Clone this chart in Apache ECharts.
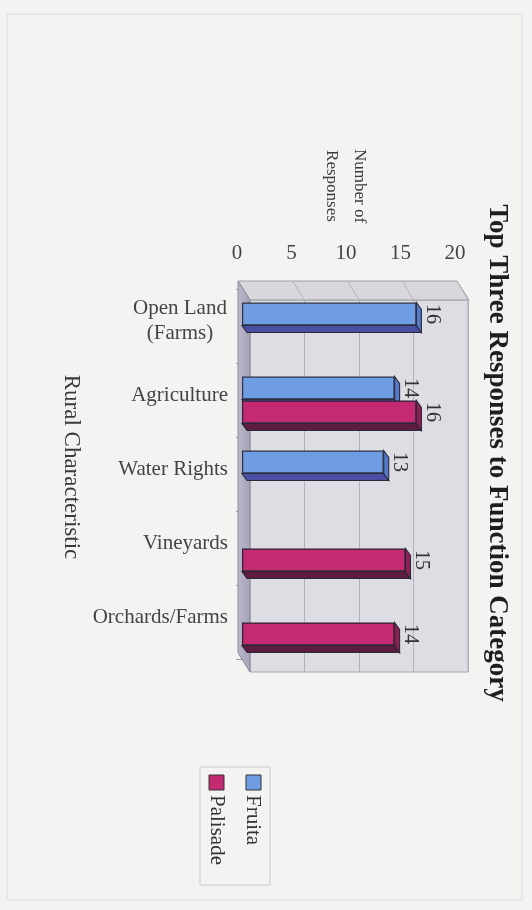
<!DOCTYPE html>
<html><head><meta charset="utf-8">
<script src="https://cdn.jsdelivr.net/npm/echarts@6/dist/echarts.min.js"></script>
<style>html,body{margin:0;padding:0;background:#f3f3f1;} #c{width:532px;height:910px;}</style>
</head><body><div id="c"></div>
<script>
// ---- data ----
const categories = ['Open Land\n(Farms)', 'Agriculture', 'Water Rights', 'Vineyards', 'Orchards/Farms'];
const fruita = [16, 14, 13, null, null];
const palisade = [null, 16, null, 15, 14];
const valueTicks = [0, 5, 10, 15, 20];
const seriesNames = ['Fruita', 'Palisade'];
const titleText = 'Top Three Responses to Function Category';
const valueAxisName = 'Number of\nResponses';
const categoryAxisName = 'Rural Characteristic';

// ---- layout / style ----
const FONT = '"Liberation Serif", "Times New Roman", serif';
const colors = {
  fruita: '#6e9de3', fruitaBottom: '#4a4fa2', fruitaEnd: '#5379c8',
  palisade: '#c42a72', palisadeBottom: '#5e1b40', palisadeEnd: '#8e1f55'
};
const front = { x0: 238, y0: 281, x1: 457 };
const depth = { dx: 12, dy: 19 };
const back = { left: 250, top: 300, width: 218, height: 372 };
const BAR_W = 23, BAR_GAP = 0.04, BAR_DX = 5, BAR_DY = 7;
const vMin = valueTicks[0], vMax = valueTicks[valueTicks.length - 1], vInt = valueTicks[1] - valueTicks[0];

const chart = echarts.init(document.getElementById('c'), null, { renderer: 'canvas' });

function rotText(x, y, text, font, extra) {
  return {
    type: 'text', x: x, y: y, rotation: -Math.PI / 2, z: 50,
    style: Object.assign({ text: text, font: font, fill: '#333', align: 'center', verticalAlign: 'middle', lineHeight: 29 }, extra || {})
  };
}

const graphics = [];
graphics.push({ type: 'rect', z: -5, shape: { x: 7, y: 14, width: 515, height: 886 }, style: { fill: 'none', stroke: '#d9dce6', lineWidth: 1 } });
graphics.push({ type: 'polygon', z: 1, shape: { points: [[front.x0, front.y0], [front.x1, front.y0], [front.x1 + depth.dx, front.y0 + depth.dy], [front.x0 + depth.dx, front.y0 + depth.dy]] }, style: { fill: '#d8d8dc', stroke: '#9c9ca6', lineWidth: 1 } });
valueTicks.forEach(function (v) {
  const fx = front.x0 + (front.x1 - front.x0) * (v - vMin) / (vMax - vMin);
  const bx = back.left + back.width * (v - vMin) / (vMax - vMin);
  graphics.push({ type: 'line', z: 1, shape: { x1: fx, y1: front.y0, x2: bx, y2: back.top }, style: { stroke: '#b4b4bc', lineWidth: 1 } });
});
graphics.push({ type: 'polygon', z: 1, shape: { points: [[front.x0, front.y0], [back.left, back.top], [back.left, back.top + back.height], [front.x0, back.top + back.height - depth.dy]] },
  style: { fill: new echarts.graphic.LinearGradient(0, 0, 1, 0, [{ offset: 0, color: '#bab8c9' }, { offset: 1, color: '#a4a2b5' }]), stroke: '#8e8c9c', lineWidth: 1 } });
graphics.push(rotText(497, 453, titleText, 'bold 27px ' + FONT, { fill: '#1e1e1e' }));
graphics.push(rotText(345, 186, valueAxisName, '17px ' + FONT, { fill: '#3a3a3a', lineHeight: 28 }));
graphics.push(rotText(71, 467, categoryAxisName, '23px ' + FONT, { fill: '#3a3a3a' }));
graphics.push({ type: 'rect', z: 40, shape: { x: 200, y: 767, width: 70, height: 118 }, style: { fill: 'none', stroke: '#c9c9cf', lineWidth: 1 } });
graphics.push({ type: 'rect', z: 41, shape: { x: 246, y: 775, width: 15, height: 15 }, style: { fill: colors.fruita, stroke: '#333', lineWidth: 1 } });
graphics.push({ type: 'rect', z: 41, shape: { x: 209, y: 775, width: 15, height: 15 }, style: { fill: colors.palisade, stroke: '#333', lineWidth: 1 } });
graphics.push(rotText(253, 795, seriesNames[0], '21px ' + FONT, { align: 'left', fill: '#333' }));
graphics.push(rotText(217, 795, seriesNames[1], '21px ' + FONT, { align: 'left', fill: '#333' }));

const barLabel = {
  show: true, position: 'right', distance: 6, rotate: -90, align: 'center', verticalAlign: 'bottom',
  fontFamily: FONT, fontSize: 20, color: '#333'
};

// depth faces (bottom + end) of the 3D bars, positioned from the axes
function depthSeries(values, sIdx, bottomColor, endColor) {
  const items = [];
  values.forEach(function (v, i) { if (v != null) items.push([i, v]); });
  const off = (sIdx === 0 ? -1 : 1) * (BAR_W * (1 + BAR_GAP)) / 2;
  return {
    type: 'custom', xAxisIndex: 0, yAxisIndex: 0, z: 3, silent: true,
    encode: { x: 1, y: 0 }, data: items,
    renderItem: function (params, api) {
      const p0 = api.coord([0, api.value(0)]);
      const p1 = api.coord([api.value(1), api.value(0)]);
      const yc = p0[1] + off, yt = yc - BAR_W / 2, yb = yc + BAR_W / 2;
      const x0 = p0[0], x1 = p1[0];
      return {
        type: 'group', children: [
          { type: 'polygon', shape: { points: [[x0, yb], [x1, yb], [x1 + BAR_DX, yb + BAR_DY], [x0 + BAR_DX, yb + BAR_DY]] },
            style: { fill: bottomColor, stroke: '#2a2a3a', lineWidth: 1.1 } },
          { type: 'polygon', shape: { points: [[x1, yt], [x1 + BAR_DX, yt + BAR_DY], [x1 + BAR_DX, yb + BAR_DY], [x1, yb]] },
            style: { fill: endColor, stroke: '#2a2a3a', lineWidth: 1.1 } }
        ]
      };
    }
  };
}

chart.setOption({
  backgroundColor: '#f3f3f1',
  animation: false,
  grid: [
    { left: 242, top: 289, width: 218, height: 370, containLabel: false },
    { left: back.left, top: back.top, width: back.width, height: back.height, show: true, backgroundColor: '#dedde3', borderColor: '#a6a6ae', borderWidth: 1, z: -1 }
  ],
  xAxis: [
    { type: 'value', gridIndex: 0, position: 'top', min: vMin, max: vMax, interval: vInt,
      axisLine: { show: false }, axisTick: { show: false }, splitLine: { show: false },
      axisLabel: { fontFamily: FONT, fontSize: 21, color: '#444', margin: 25, padding: [0, 10, 0, 0] } },
    { type: 'value', gridIndex: 1, min: vMin, max: vMax, interval: vInt, z: -1,
      axisLine: { show: false }, axisTick: { show: false }, axisLabel: { show: false },
      splitLine: { show: true, lineStyle: { color: '#b2b2ba', width: 1 } } }
  ],
  yAxis: [
    { type: 'category', gridIndex: 0, inverse: true, data: categories,
      axisLine: { show: false }, axisTick: { show: true, length: 6, lineStyle: { color: '#9a98a8' } },
      axisLabel: { fontFamily: FONT, fontSize: 21, color: '#444', margin: 14, padding: [0, 0, 10, 0], lineHeight: 25,
        formatter: function (v) { return v.indexOf('\n') >= 0 ? v.split('\n').map(function (s) { return '{c|' + s + '}'; }).join('\n') : v; },
        rich: { c: { width: 96, align: 'center', fontFamily: FONT, fontSize: 21, color: '#444', lineHeight: 25 } } } },
    { type: 'category', gridIndex: 1, inverse: true, data: categories, show: false }
  ],
  series: [
    depthSeries(fruita, 0, colors.fruitaBottom, colors.fruitaEnd),
    depthSeries(palisade, 1, colors.palisadeBottom, colors.palisadeEnd),
    { name: seriesNames[0], type: 'bar', xAxisIndex: 0, yAxisIndex: 0, data: fruita, barWidth: BAR_W, barGap: (BAR_GAP * 100) + '%', z: 5,
      itemStyle: { color: colors.fruita, borderColor: '#2e3044', borderWidth: 1.2 },
      label: barLabel },
    { name: seriesNames[1], type: 'bar', xAxisIndex: 0, yAxisIndex: 0, data: palisade, barWidth: BAR_W, barGap: (BAR_GAP * 100) + '%', z: 5,
      itemStyle: { color: colors.palisade, borderColor: '#2e2030', borderWidth: 1.2 },
      label: barLabel }
  ],
  graphic: { elements: graphics }
});
</script></body></html>
